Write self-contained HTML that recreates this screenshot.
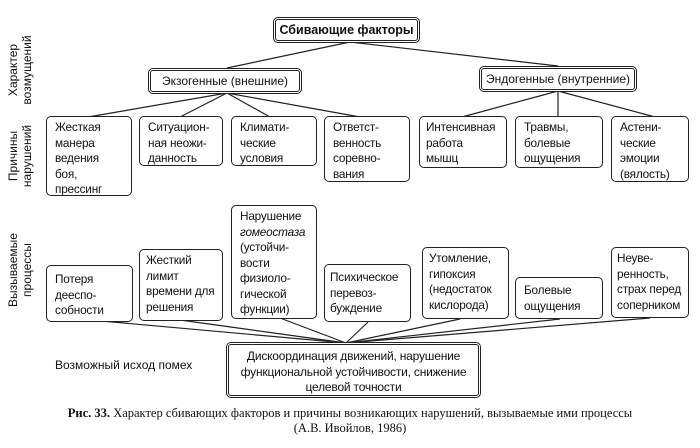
<!DOCTYPE html>
<html><head><meta charset="utf-8"><style>
body{margin:0;width:700px;height:448px;background:#fff;position:relative;overflow:hidden;font-family:"Liberation Sans",sans-serif;color:#111}
.b{position:absolute;box-sizing:border-box;border:1.5px solid #222;border-radius:5px;font-size:11.8px;line-height:15.5px;padding:3px 0 0 8px;background:#fff;white-space:nowrap;letter-spacing:-0.2px}
.d{position:absolute;box-sizing:border-box;border:3px double #222;border-radius:5px;font-size:12px;text-align:center;background:#fff;white-space:nowrap}
.r{position:absolute;transform:rotate(-90deg);transform-origin:center;font-size:12px;line-height:14px;text-align:center;white-space:nowrap}
svg{position:absolute;left:0;top:0}
</style></head><body>
<svg width="700" height="448"><g stroke="#222" stroke-width="1.2" fill="none">
<line x1="227" y1="68" x2="350" y2="42"/><line x1="350" y1="42" x2="558" y2="66"/>
<line x1="227" y1="93" x2="88" y2="117"/><line x1="227" y1="93" x2="180" y2="117"/><line x1="227" y1="93" x2="270" y2="117"/><line x1="227" y1="93" x2="360" y2="117"/>
<line x1="558" y1="91" x2="462" y2="117"/><line x1="558" y1="91" x2="558" y2="117"/><line x1="558" y1="91" x2="655" y2="117"/>
<line x1="90" y1="320" x2="346" y2="343"/><line x1="180" y1="320" x2="346" y2="343"/><line x1="280" y1="318" x2="346" y2="343"/><line x1="368" y1="322" x2="346" y2="343"/><line x1="460" y1="319" x2="346" y2="343"/><line x1="560" y1="319" x2="346" y2="343"/><line x1="650" y1="318" x2="346" y2="343"/>
</g></svg>
<div class="d" style="left:273px;top:17px;width:147px;height:26px;font-weight:bold;font-size:12.5px;line-height:20px">Сбивающие факторы</div>
<div class="d" style="left:148px;top:68px;width:154px;height:26px;line-height:20px">Экзогенные (внешние)</div>
<div class="d" style="left:479px;top:66px;width:158px;height:26px;line-height:20px">Эндогенные (внутренние)</div>
<div class="b" style="left:46px;top:116px;width:86px;height:80px">Жесткая<br>манера<br>ведения<br>боя,<br>прессинг</div>
<div class="b" style="left:139px;top:116px;width:84px;height:50px">Ситуацион-<br>ная неожи-<br>данность</div>
<div class="b" style="left:231px;top:116px;width:86px;height:50px">Климати-<br>ческие<br>условия</div>
<div class="b" style="left:324px;top:116px;width:86px;height:66px">Ответст-<br>венность<br>соревно-<br>вания</div>
<div class="b" style="left:419px;top:116px;width:88px;height:52px;padding-left:6px">Интенсивная<br>работа<br>мышц</div>
<div class="b" style="left:515px;top:116px;width:88px;height:52px">Травмы,<br>болевые<br>ощущения</div>
<div class="b" style="left:611px;top:116px;width:78px;height:66px">Астени-<br>ческие<br>эмоции<br>(вялость)</div>
<div class="b" style="left:46px;top:265px;width:87px;height:57px;padding-top:6px">Потеря<br>дееспо-<br>собности</div>
<div class="b" style="left:139px;top:249px;width:84px;height:72px;padding-left:6px">Жесткий<br>лимит<br>времени для<br>решения</div>
<div class="b" style="left:231px;top:205px;width:86px;height:114px">Нарушение<br><i>гомеостаза</i><br>(устойчи-<br>вости<br>физиоло-<br>гической<br>функции)</div>
<div class="b" style="left:324px;top:264px;width:87px;height:58px;padding-top:5px;padding-left:5px">Психическое<br>перевоз-<br>буждение</div>
<div class="b" style="left:422px;top:247px;width:87px;height:72px;padding-left:6px">Утомление,<br>гипоксия<br>(недостаток<br>кислорода)</div>
<div class="b" style="left:515px;top:277px;width:88px;height:42px;padding-top:5px">Болевые<br>ощущения</div>
<div class="b" style="left:611px;top:247px;width:78px;height:71px;padding-left:5px">Неуве-<br>ренность,<br>страх перед<br>соперником</div>
<div class="d" style="left:226px;top:342px;width:255px;height:56px;line-height:15.5px;padding-top:4px;letter-spacing:-0.2px">Дискоординация движений, нарушение<br>функциональной устойчивости, снижение<br>целевой точности</div>
<div class="r" style="left:-20px;top:56px;width:80px">Характер<br>возмущений</div>
<div class="r" style="left:-20px;top:142px;width:80px">Причины<br>нарушений</div>
<div class="r" style="left:-20px;top:256px;width:80px">Вызываемые<br>процессы</div>
<div style="position:absolute;left:55px;top:358px;font-size:12px">Возможный исход помех</div>
<div style="position:absolute;left:0;width:700px;top:406px;text-align:center;font-family:'Liberation Serif',serif;font-size:12.5px;line-height:15px"><b>Рис. 33.</b> Характер сбивающих факторов и причины возникающих нарушений, вызываемые ими процессы<br>(А.В. Ивойлов, 1986)</div>
</body></html>
